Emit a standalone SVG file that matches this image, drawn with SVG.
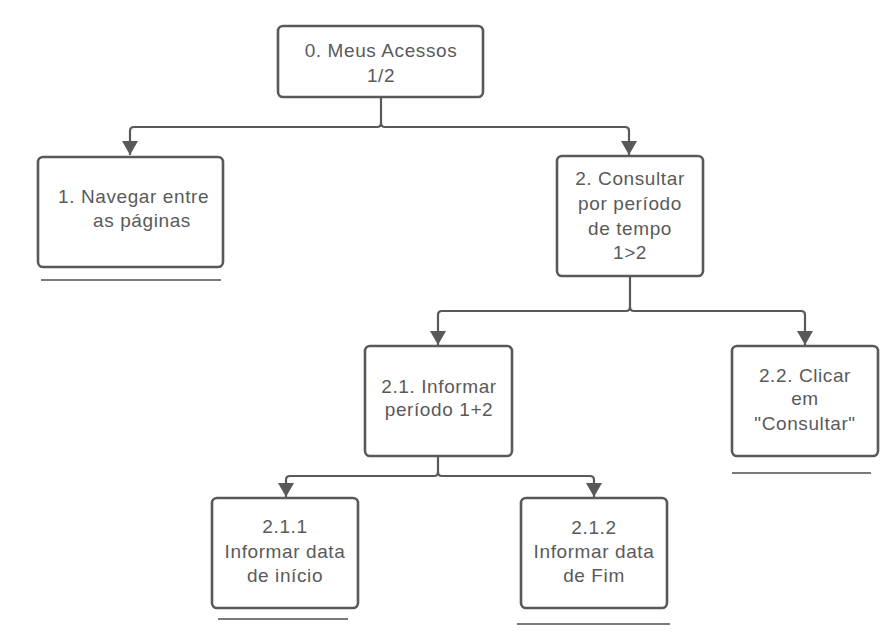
<svg xmlns="http://www.w3.org/2000/svg" width="896" height="639" viewBox="0 0 896 639">
<defs>
<marker id="arr" markerUnits="userSpaceOnUse" markerWidth="16" markerHeight="17" refX="14" refY="8" orient="auto">
<path d="M0,0 L14,8 L0,16 Z" fill="#595959"/>
</marker>
<style>
.n{fill:#fff;stroke:#595959;stroke-width:2.6}
.c{fill:none;stroke:#595959;stroke-width:2.2}
.u{stroke:#7a7a7a;stroke-width:1.8}
text{font-family:"Liberation Sans",Arial,sans-serif;font-size:19px;letter-spacing:0.6px;fill:#5a5a5a}
.m{text-anchor:middle}
</style>
</defs>
<rect width="896" height="639" fill="#fff"/>
<g id="connectors">
<path class="c" d="M381,98 V123 Q381,127 377,127 H134 Q130,127 130,131 V155" marker-end="url(#arr)"/>
<path class="c" d="M381,123 Q381,127 385,127 H625 Q629,127 629,131 V155" marker-end="url(#arr)"/>
<path class="c" d="M630,277 V307 Q630,311 626,311 H442 Q438,311 438,315 V345" marker-end="url(#arr)"/>
<path class="c" d="M630,307 Q630,311 634,311 H801 Q805,311 805,315 V345" marker-end="url(#arr)"/>
<path class="c" d="M438,457 V472 Q438,476 434,476 H290 Q286,476 286,480 V497" marker-end="url(#arr)"/>
<path class="c" d="M438,472 Q438,476 442,476 H590 Q594,476 594,480 V497" marker-end="url(#arr)"/>
</g>
<g id="node0">
<rect class="n" x="278" y="26" width="205" height="71" rx="5"/>
<text class="m" x="381" y="57">0. Meus Acessos</text>
<text class="m" x="381" y="82">1/2</text>
</g>
<g id="node1">
<rect class="n" x="38" y="157" width="185" height="110" rx="5"/>
<text x="58" y="203">1. Navegar entre</text>
<text x="93" y="227">as páginas</text>
<line class="u" x1="41" y1="280" x2="221" y2="280"/>
</g>
<g id="node2">
<rect class="n" x="557" y="156" width="146" height="120" rx="5"/>
<text class="m" x="630" y="185">2. Consultar</text>
<text class="m" x="630" y="210">por período</text>
<text class="m" x="630" y="235">de tempo</text>
<text class="m" x="630" y="259">1&gt;2</text>
</g>
<g id="node2_1">
<rect class="n" x="365" y="346" width="147" height="110" rx="5"/>
<text class="m" x="439" y="393">2.1. Informar</text>
<text class="m" x="439" y="416">período 1+2</text>
</g>
<g id="node2_2">
<rect class="n" x="732" y="346" width="146" height="110" rx="5"/>
<text class="m" x="805" y="382">2.2. Clicar</text>
<text class="m" x="805" y="405">em</text>
<text class="m" x="805" y="430">"Consultar"</text>
<line class="u" x1="732" y1="473" x2="871" y2="473"/>
</g>
<g id="node2_1_1">
<rect class="n" x="212" y="498" width="146" height="110" rx="5"/>
<text class="m" x="285" y="533">2.1.1</text>
<text class="m" x="285" y="558">Informar data</text>
<text class="m" x="285" y="582">de início</text>
<line class="u" x1="218" y1="619" x2="348" y2="619"/>
</g>
<g id="node2_1_2">
<rect class="n" x="521" y="498" width="146" height="110" rx="5"/>
<text class="m" x="594" y="534">2.1.2</text>
<text class="m" x="594" y="558">Informar data</text>
<text class="m" x="594" y="582">de Fim</text>
<line class="u" x1="517" y1="624" x2="670" y2="624"/>
</g>
</svg>
